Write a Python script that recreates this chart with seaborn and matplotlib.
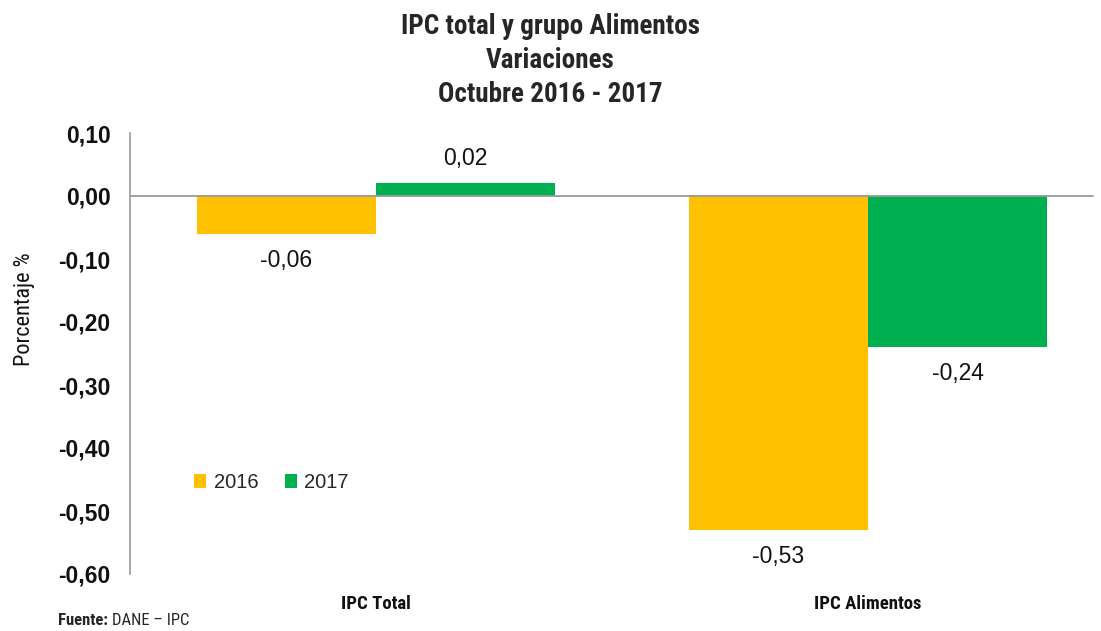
import matplotlib
matplotlib.use("Agg")
from matplotlib import pyplot as plt
import seaborn as sns
import pandas as pd

categories = ["IPC Total", "IPC Alimentos"]
years = ["2016", "2017"]
values_2016 = [-0.06, -0.53]
values_2017 = [0.02, -0.24]
colors = {"2016": "#FFC000", "2017": "#00B050"}

df = pd.DataFrame({
    "Grupo": categories * 2,
    "Año": [years[0]] * len(categories) + [years[1]] * len(categories),
    "Variacion": values_2016 + values_2017,
})

sns.set_style("white")
narrow = ["Roboto Condensed", "DejaVu Sans"]
arial = ["Liberation Sans", "DejaVu Sans"]
plt.rcParams["font.family"] = arial

fig = plt.figure(figsize=(11.01, 6.31), dpi=100)
ax = fig.add_axes([130 / 1101, 57 / 631, 984 / 1101, 441 / 631])

sns.barplot(data=df, x="Grupo", y="Variacion", hue="Año", palette=colors,
            width=0.728, gap=0, saturation=1, ax=ax, order=categories,
            hue_order=years, legend=True, linewidth=0)

ax.set_ylim(-0.6, 0.1)
ax.set_xlim(-0.5, 1.5)
ax.set_yticks([0.1, 0.0, -0.1, -0.2, -0.3, -0.4, -0.5, -0.6])
ax.set_yticklabels([f"{v:.2f}".replace(".", ",") for v in ax.get_yticks()],
                   fontsize=16.5, fontweight="bold", family=arial, color="#111111")
ax.tick_params(axis="y", length=0, pad=14)
ax.tick_params(axis="x", length=0, pad=15)
for lbl in ax.get_xticklabels():
    lbl.set_family(narrow)
    lbl.set_fontweight("bold")
    lbl.set_fontsize(13.5)
    lbl.set_color("#111111")

ax.axhline(0, xmax=0.979, color="#999999", linewidth=1.3, zorder=3)
for s in ["top", "right", "bottom"]:
    ax.spines[s].set_visible(False)
ax.spines["left"].set_color("#999999")
ax.spines["left"].set_linewidth(1.2)

ax.set_xlabel("")
ax.set_ylabel("Porcentaje %", family=narrow, fontsize=16, color="#111111")
ax.yaxis.set_label_coords(-0.097, 0.60)

for cont in ax.containers:
    for bar in cont:
        h = bar.get_height()
        x = bar.get_x() + bar.get_width() / 2
        lab = f"{h:.2f}".replace(".", ",")
        if h >= 0:
            ax.annotate(lab, (x, h), xytext=(0, 10), textcoords="offset points",
                        ha="center", va="bottom", fontsize=16.5, family=arial, color="#111111")
        else:
            ax.annotate(lab, (x, h), xytext=(0, -11), textcoords="offset points",
                        ha="center", va="top", fontsize=16.5, family=arial, color="#111111")

ax.legend(loc="upper left", bbox_to_anchor=(0.047, 0.27), ncol=2, frameon=False,
          prop={"family": arial, "size": 14.5}, handlelength=0.6, handleheight=0.7,
          handletextpad=0.35, columnspacing=1.35)

fig.text(0.5, 1 - 13 / 631, "IPC total y grupo Alimentos\nVariaciones\nOctubre 2016 - 2017",
         ha="center", va="top", fontsize=19.5, fontweight="bold", family=narrow,
         linespacing=1.33)
fuente = fig.text(58 / 1101, 1 - 628 / 631, "Fuente:", ha="left", va="bottom",
                  fontsize=12, fontweight="bold", family=narrow)
fig.canvas.draw()
bb = fuente.get_window_extent()
fig.text((bb.x1 + 4) / 1101, 1 - 628 / 631, "DANE – IPC", ha="left", va="bottom",
         fontsize=12, family=narrow)

fig.savefig("out.png", dpi=100)
